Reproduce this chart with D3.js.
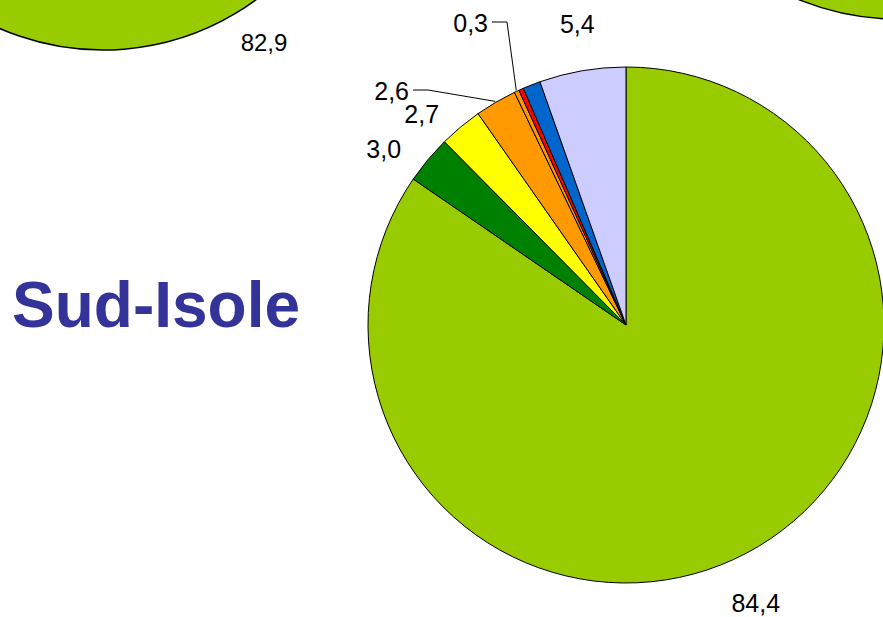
<!DOCTYPE html>
<html><head><meta charset="utf-8">
<script src="https://cdn.jsdelivr.net/npm/d3@7"></script>
<style>body{margin:0;background:#fff}svg{display:block}</style>
</head><body><svg id="c" width="883" height="617"></svg>
<script>
// ---- data ----
const title = "Sud-Isole";
const categories = ["Voce 1","Voce 2","Voce 3","Voce 4","Voce 5","Voce 6","Voce 7","Voce 8"];
const values = [84.4, 3.0, 2.7, 2.6, 0.3, 0.3, 1.1, 5.4];
const valueLabels = ["84,4","3,0","2,7","2,6","0,3","","","5,4"];
const colors = ["#99CC00","#008000","#FFFF00","#FF9900","#FF9900","#FF0000","#0066CC","#CCCCFF"];
// neighbouring region pies (only their main slice shows inside the frame)
const neighbourLeftValues = [82.9, 17.1];
const neighbourLeftLabels = ["82,9", ""];
const neighbourRightValues = [84.0, 16.0];
const neighbourColors = ["#99CC00", "#CCCCFF"];

// ---- layout ----
const svg = d3.select("#c");
const R = 258;
const main = {cx: 626, cy: 325};
const labelRadius = 300;
const nudges = [[-10,13],[-12,16],[-12,19],null,null,null,null,[2,-5]];
const leaderText = {3: [-217,-225], 4: [-138,-293]}; // text end / baseline relative to centre

const pie = d3.pie().sort(null).value(d => d).startAngle(0).endAngle(2*Math.PI);
const arc = d3.arc().innerRadius(0).outerRadius(R);

function drawPie(vals, cols, cx, cy, sw) {
  const g = svg.append("g").attr("transform", `translate(${cx},${cy})`);
  const arcs = pie(vals);
  g.selectAll("path").data(arcs).join("path")
    .attr("d", arc).attr("fill", (d,i) => cols[i])
    .attr("stroke", "#000").attr("stroke-width", sw).attr("stroke-linejoin","round");
  return {g, arcs};
}

// neighbour pies
const left = drawPie(neighbourLeftValues, neighbourColors, 103, -208, 1.5);
const right = drawPie(neighbourRightValues, neighbourColors, 897, -239, 1.5);
svg.append("text").attr("x", 264).attr("y", 51).attr("text-anchor","middle")
  .attr("font-family","Liberation Sans, Arial, sans-serif").attr("font-size", 24)
  .attr("fill","#000").text(neighbourLeftLabels[0]);

// main pie
const m = drawPie(values, colors, main.cx, main.cy, 1);
const font = "Liberation Sans, Arial, sans-serif";
m.arcs.forEach((a, i) => {
  const lab = valueLabels[i];
  if (!lab) return;
  const mid = (a.startAngle + a.endAngle) / 2;
  if (leaderText[i]) {
    const [tx, ty] = leaderText[i];
    m.g.append("text").attr("x", tx).attr("y", ty).attr("text-anchor","end")
      .attr("font-family", font).attr("font-size", 25).attr("fill","#000").text(lab);
    const sx = tx + 4, sy = ty - 10;
    const ex = (R + 1) * Math.sin(mid), ey = -(R + 1) * Math.cos(mid);
    m.g.append("path")
      .attr("d", d3.line()([[sx, sy], [sx + 15, sy], [ex, ey]]))
      .attr("fill","none").attr("stroke","#000").attr("stroke-width",1);
  } else {
    const n = nudges[i] || [0,0];
    const x = labelRadius * Math.sin(mid) + n[0];
    const y = -labelRadius * Math.cos(mid) + n[1];
    m.g.append("text").attr("x", x).attr("y", y).attr("dy","0.36em")
      .attr("text-anchor","middle").attr("font-family", font).attr("font-size", 25)
      .attr("fill","#000").text(lab);
  }
});

// title
svg.append("text").attr("x", 12).attr("y", 327)
  .attr("font-family", font).attr("font-weight","bold").attr("font-size", 64)
  .attr("fill","#333399").text(title);
</script>
</body></html>
